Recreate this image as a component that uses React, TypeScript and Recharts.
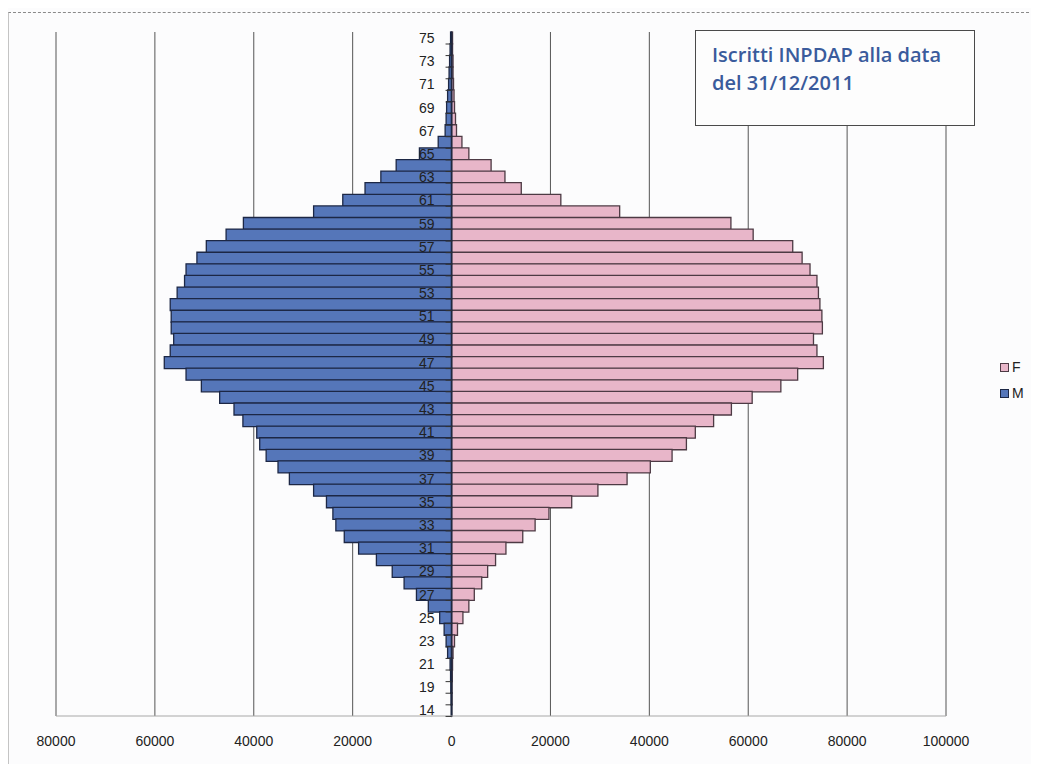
import { Bar, BarChart, CartesianGrid, LabelList, ReferenceLine, XAxis, YAxis } from 'recharts';

// Età (dall'alto verso il basso) e iscritti per sesso
const ages = [
  '75', '74', '73', '72', '71', '70', '69', '68', '67', '66',
  '65', '64', '63', '62', '61', '60', '59', '58', '57', '56',
  '55', '54', '53', '52', '51', '50', '49', '48', '47', '46',
  '45', '44', '43', '42', '41', '40', '39', '38', '37', '36',
  '35', '34', '33', '32', '31', '30', '29', '28', '27', '26',
  '25', '24', '23', '22', '21', '20', '19', '18', '14',
];

const maleCounts = [
  200, 300, 400, 500, 600, 800, 1000, 1100, 1300, 2700,
  6500, 11200, 14300, 17500, 22000, 27900, 42100, 45600, 49600, 51500,
  53700, 54000, 55500, 56900, 56700, 56700, 56200, 56900, 58100, 53700,
  50600, 46900, 44000, 42200, 39400, 38800, 37500, 35100, 32800, 27900,
  25300, 24000, 23400, 21700, 18800, 15200, 12000, 9600, 7100, 4700,
  2400, 1500, 1100, 800, 300, 200, 150, 100, 50,
];

const femaleCounts = [
  200, 200, 300, 300, 400, 500, 600, 800, 1000, 2100,
  3500, 8000, 10800, 14100, 22100, 34000, 56500, 61000, 69000, 70900,
  72500, 73900, 74200, 74500, 74900, 75000, 73200, 73900, 75200, 70000,
  66600, 60800, 56600, 53000, 49300, 47500, 44600, 40200, 35500, 29600,
  24300, 19700, 16900, 14400, 11000, 8900, 7300, 6100, 4600, 3500,
  2300, 1200, 600, 300, 200, 150, 100, 100, 50,
];

const xTicks = [-80000, -60000, -40000, -20000, 0, 20000, 40000, 60000, 80000, 100000];
const xDomain: [number, number] = [-80000, 100000];

const legendItems = [
  { key: 'F', label: 'F', fill: '#e8b6c9', stroke: '#4d3a44' },
  { key: 'M', label: 'M', fill: '#5576b9', stroke: '#1c2745' },
];

const CHART_W = 1031;
const CHART_H = 756;
const MARGIN = { top: 24, right: 93, bottom: 18, left: 48 };
const X_AXIS_H = 30;
const PLOT_W = CHART_W - MARGIN.left - MARGIN.right;
const ZERO_X = MARGIN.left + (PLOT_W * (0 - xDomain[0])) / (xDomain[1] - xDomain[0]);

const FONT = '"Liberation Sans", Arial, sans-serif';

const data = ages.map((age, i) => ({
  age,
  M: -maleCounts[i],
  F: femaleCounts[i],
}));

// etichette delle età accanto allo zero (una ogni due) con le tacche fra le categorie
function AgeLabel(props: any) {
  const { y, height, value, index } = props;
  const top = Number(y);
  const h = Number(height);
  if (!Number.isFinite(top) || !Number.isFinite(h)) return null;
  const cy = top + h / 2;
  return (
    <g>
      <line x1={ZERO_X - 6} x2={ZERO_X} y1={top + h} y2={top + h} stroke="#333" strokeWidth={1} />
      {index % 2 === 0 && (
        <text
          x={ZERO_X - 17}
          y={cy}
          dy="0.36em"
          textAnchor="end"
          fontSize={14}
          fontFamily={FONT}
          fill="#222"
        >
          {value}
        </text>
      )}
    </g>
  );
}

export default function App() {
  return (
    <div
      style={{
        position: 'relative',
        width: CHART_W,
        height: CHART_H,
        background: '#fcfcfd',
        fontFamily: FONT,
      }}
    >
      <div
        style={{
          position: 'absolute',
          left: 0,
          top: 4,
          right: 0,
          bottom: 0,
          borderTop: '1px dashed #8a8a8a',
          borderLeft: '1px solid #c4c4c4',
        }}
      />
      <BarChart
        width={CHART_W}
        height={CHART_H}
        data={data}
        layout="vertical"
        stackOffset="sign"
        barCategoryGap={0}
        margin={MARGIN}
      >
        <CartesianGrid horizontal={false} stroke="#555" strokeWidth={1} />
        <XAxis
          type="number"
          domain={xDomain}
          ticks={xTicks}
          allowDataOverflow
          height={X_AXIS_H}
          tickFormatter={(v: number) => String(Math.abs(v))}
          tick={{ fontSize: 14, fill: '#222', fontFamily: FONT }}
          tickLine={false}
          tickMargin={14}
          axisLine={{ stroke: '#a8a8a8' }}
        />
        <YAxis type="category" dataKey="age" hide />
        <Bar
          dataKey="F"
          stackId="pop"
          fill={legendItems[0].fill}
          stroke={legendItems[0].stroke}
          strokeWidth={1.3}
          isAnimationActive={false}
        />
        <Bar
          dataKey="M"
          stackId="pop"
          fill={legendItems[1].fill}
          stroke={legendItems[1].stroke}
          strokeWidth={1.3}
          isAnimationActive={false}
        >
          <LabelList dataKey="age" content={AgeLabel} />
        </Bar>
        <ReferenceLine x={0} stroke="#1e2840" strokeWidth={1.5} />
      </BarChart>

      <div
        style={{
          position: 'absolute',
          left: 687,
          top: 22,
          width: 280,
          height: 96,
          boxSizing: 'border-box',
          border: '1px solid #4a4a4a',
          background: '#fdfdfd',
          padding: '10px 0 0 16px',
          color: '#3a5b9c',
          fontFamily: '"Open Sans", sans-serif',
          fontWeight: 600,
          fontSize: 20,
          lineHeight: '28px',
        }}
      >
        Iscritti INPDAP alla data
        <br />
        del 31/12/2011
      </div>

      <div style={{ position: 'absolute', left: 992, top: 346 }}>
        {legendItems.map((item) => (
          <div
            key={item.key}
            style={{ display: 'flex', alignItems: 'center', height: 26, fontSize: 14, color: '#222' }}
          >
            <span
              style={{
                width: 7,
                height: 7,
                background: item.fill,
                border: `1px solid ${item.stroke}`,
                marginRight: 3,
              }}
            />
            {item.label}
          </div>
        ))}
      </div>
    </div>
  );
}
